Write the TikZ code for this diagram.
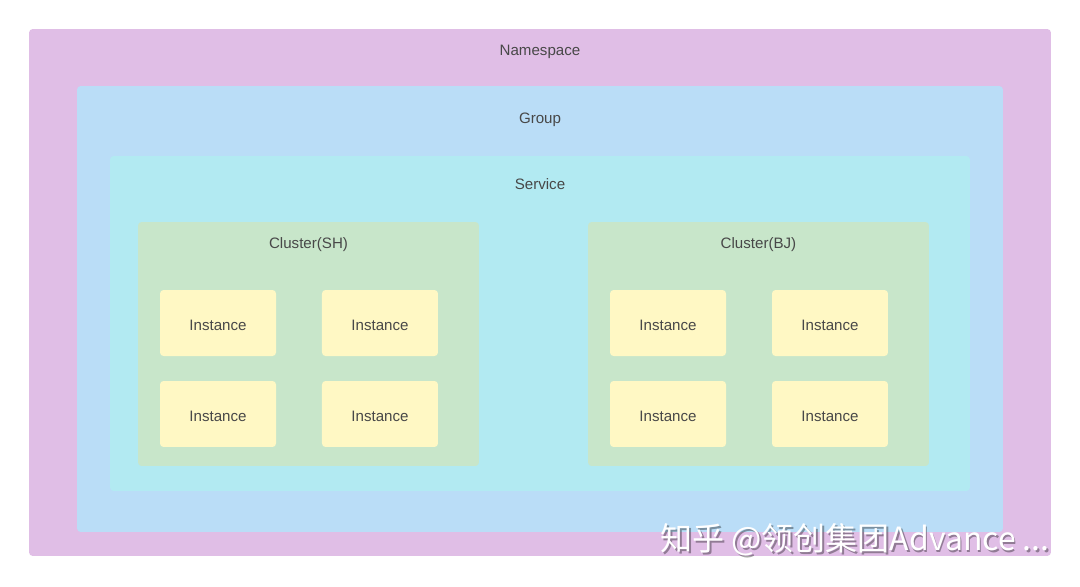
\documentclass[tikz,border=0pt]{standalone}
\usepackage{fontspec}
\setmainfont{Liberation Sans}
\newfontfamily\cjk{Noto Sans CJK SC}
\usetikzlibrary{positioning}

\definecolor{nscolor}{HTML}{E0BEE6}
\definecolor{grpcolor}{HTML}{BADDF7}
\definecolor{svccolor}{HTML}{B2EAF2}
\definecolor{clcolor}{HTML}{C8E6CA}
\definecolor{inscolor}{HTML}{FFF8C4}
\definecolor{txtcolor}{HTML}{484848}

\begin{document}
\begin{tikzpicture}[x=0.02cm, y=-0.02cm, node distance=0.5cm, font=\fontsize{8.6}{10}\selectfont, text=txtcolor]
            % Define block styles
            \tikzstyle{area} = [rectangle, rounded corners=2pt, inner sep=0pt, outer sep=0pt]
            \tikzstyle{title} = [inner sep=0pt, anchor=center]
            \tikzstyle{instance} = [rectangle, fill=inscolor, rounded corners=2pt, minimum width=2.32cm, minimum height=1.32cm, inner sep=0pt, outer sep=0pt, text height=0.3cm, text depth=0pt]

            \useasboundingbox (0,0) rectangle (1080,586);

            % Place nested areas
            \node [area, fill=nscolor, minimum width=20.44cm, minimum height=10.54cm] (ns) at (540,292.5) {};
            \node [area, fill=grpcolor, minimum width=18.52cm, minimum height=8.92cm] (grp) at (540,309) {};
            \node [area, fill=svccolor, minimum width=17.2cm, minimum height=6.7cm] (svc) at (540,323.5) {};
            \node [area, fill=clcolor, minimum width=6.82cm, minimum height=4.88cm] (clsh) at (308.5,344) {};
            \node [area, fill=clcolor, minimum width=6.82cm, minimum height=4.88cm] (clbj) at (758.5,344) {};

            % Titles of the areas
            \node [title, below=0.31cm of ns.north] (nstitle) {Namespace};
            \node [title, below=0.53cm of grp.north] (grptitle) {Group};
            \node [title, below=0.44cm of svc.north] (svctitle) {Service};
            \node [title, below=0.3cm of clsh.north] (clshtitle) {Cluster(SH)};
            \node [title, below=0.3cm of clbj.north] (clbjtitle) {Cluster(BJ)};

            % Place instances inside Cluster(SH)
            \node [instance, below right=1.36cm and 0.44cm of clsh.north west] (sh1) {Instance};
            \node [instance, right=0.92cm of sh1] (sh2) {Instance};
            \node [instance, below=0.5cm of sh1] (sh3) {Instance};
            \node [instance, below=0.5cm of sh2] (sh4) {Instance};

            % Place instances inside Cluster(BJ)
            \node [instance, below right=1.36cm and 0.44cm of clbj.north west] (bj1) {Instance};
            \node [instance, right=0.92cm of bj1] (bj2) {Instance};
            \node [instance, below=0.5cm of bj1] (bj3) {Instance};
            \node [instance, below=0.5cm of bj2] (bj4) {Instance};

            % Watermark
            \node [anchor=east, inner sep=0pt, text=black, opacity=0.35, font=\cjk\fontsize{18.2}{20}\selectfont] (markshadow) at (1051.5,541.5) {知乎 @领创集团Advance ...};
            \node [anchor=east, inner sep=0pt, text=white, font=\cjk\fontsize{18.2}{20}\selectfont] (mark) at (1050,540) {知乎 @领创集团Advance ...};

        \end{tikzpicture}
\end{document}
